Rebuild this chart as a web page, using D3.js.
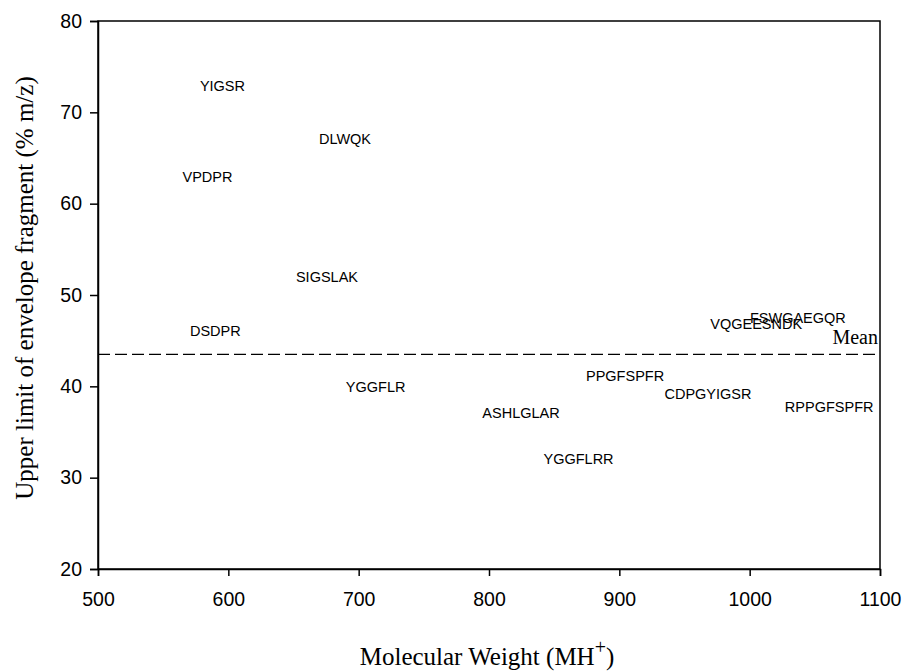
<!DOCTYPE html>
<html><head><meta charset="utf-8">
<script src="https://cdn.jsdelivr.net/npm/d3@7"></script>
<style>body{margin:0;background:#fff}svg{display:block}</style>
</head><body>
<script>
const peptides = ["YIGSR","VPDPR","DLWQK","SIGSLAK","DSDPR","YGGFLR","ASHLGLAR","YGGFLRR","PPGFSPFR","CDPGYIGSR","RPPGFSPFR","VQGEESNDK","FSWGAEGQR"];
const molWeight = [595.5,584,689.5,675.7,590,713,824.6,868.7,904.4,968,1061,1005,1037];
const upperLimit = [72.9,62.9,67.1,52.0,46.05,39.9,37.1,32.1,41.2,39.2,37.8,46.9,47.5];
const meanValue = 43.5;
const xTicks = [500,600,700,800,900,1000,1100];
const yTicks = [20,30,40,50,60,70,80];

const W = 905, H = 671;
const m = {left: 98, right: 25, top: 21, bottom: 102};
const svg = d3.select("body").append("svg").attr("width", W).attr("height", H);
const x = d3.scaleLinear().domain([500,1100]).range([m.left, W - m.right]);
const y = d3.scaleLinear().domain([20,80]).range([H - m.bottom, m.top]);

const sans = "'Liberation Sans', Arial, sans-serif";
const serif = "'Liberation Serif', 'Times New Roman', serif";

// frame
svg.append("rect").attr("x", x(500)).attr("y", y(80)).attr("width", x(1100)-x(500)).attr("height", y(20)-y(80))
  .attr("fill","none").attr("stroke","#000").attr("stroke-width",1.5);

const xa = svg.append("g").attr("transform",`translate(0,${y(20)})`)
  .call(d3.axisBottom(x).tickValues(xTicks).tickSize(7).tickPadding(16).tickFormat(d3.format("d")));
const ya = svg.append("g").attr("transform",`translate(${x(500)},0)`)
  .call(d3.axisLeft(y).tickValues(yTicks).tickSize(8).tickPadding(8).tickFormat(d3.format("d")));
[xa, ya].forEach(a => {
  a.select(".domain").attr("stroke","#000").attr("stroke-width",1.5);
  a.selectAll(".tick line").attr("stroke","#000").attr("stroke-width",1.5);
  a.selectAll(".tick text").attr("fill","#000").style("font-family", sans).style("font-size","19.5px");
});
xa.selectAll(".tick text").attr("dy","0.71em");

// mean line
svg.append("line").attr("x1", x(500)).attr("x2", x(1100)).attr("y1", y(meanValue)).attr("y2", y(meanValue))
  .attr("stroke","#000").attr("stroke-width",1.3).attr("stroke-dasharray","12,5");
svg.append("text").attr("x", x(1100) - 2).attr("y", y(meanValue) - 10).attr("text-anchor","end")
  .style("font-family", serif).style("font-size","20px").text("Mean");

// labels
svg.append("g").selectAll("text").data(peptides).join("text")
  .attr("x", (d,i) => x(molWeight[i])).attr("y", (d,i) => y(upperLimit[i]))
  .attr("text-anchor","middle").attr("dy","0.36em")
  .style("font-family", sans).style("font-size","14.5px").text(d => d);

// axis titles
const xt = svg.append("text").attr("x", 487).attr("y", 665).attr("text-anchor","middle")
  .style("font-family", serif).style("font-size","25px");
xt.append("tspan").text("Molecular Weight (MH");
xt.append("tspan").attr("dy","-11").style("font-size","20px").text("+");
xt.append("tspan").attr("dy","11").text(")");

svg.append("text").attr("transform","translate(33,288) rotate(-90)").attr("text-anchor","middle")
  .style("font-family", serif).style("font-size","25px").text("Upper limit of envelope fragment (% m/z)");
</script>
</body></html>
